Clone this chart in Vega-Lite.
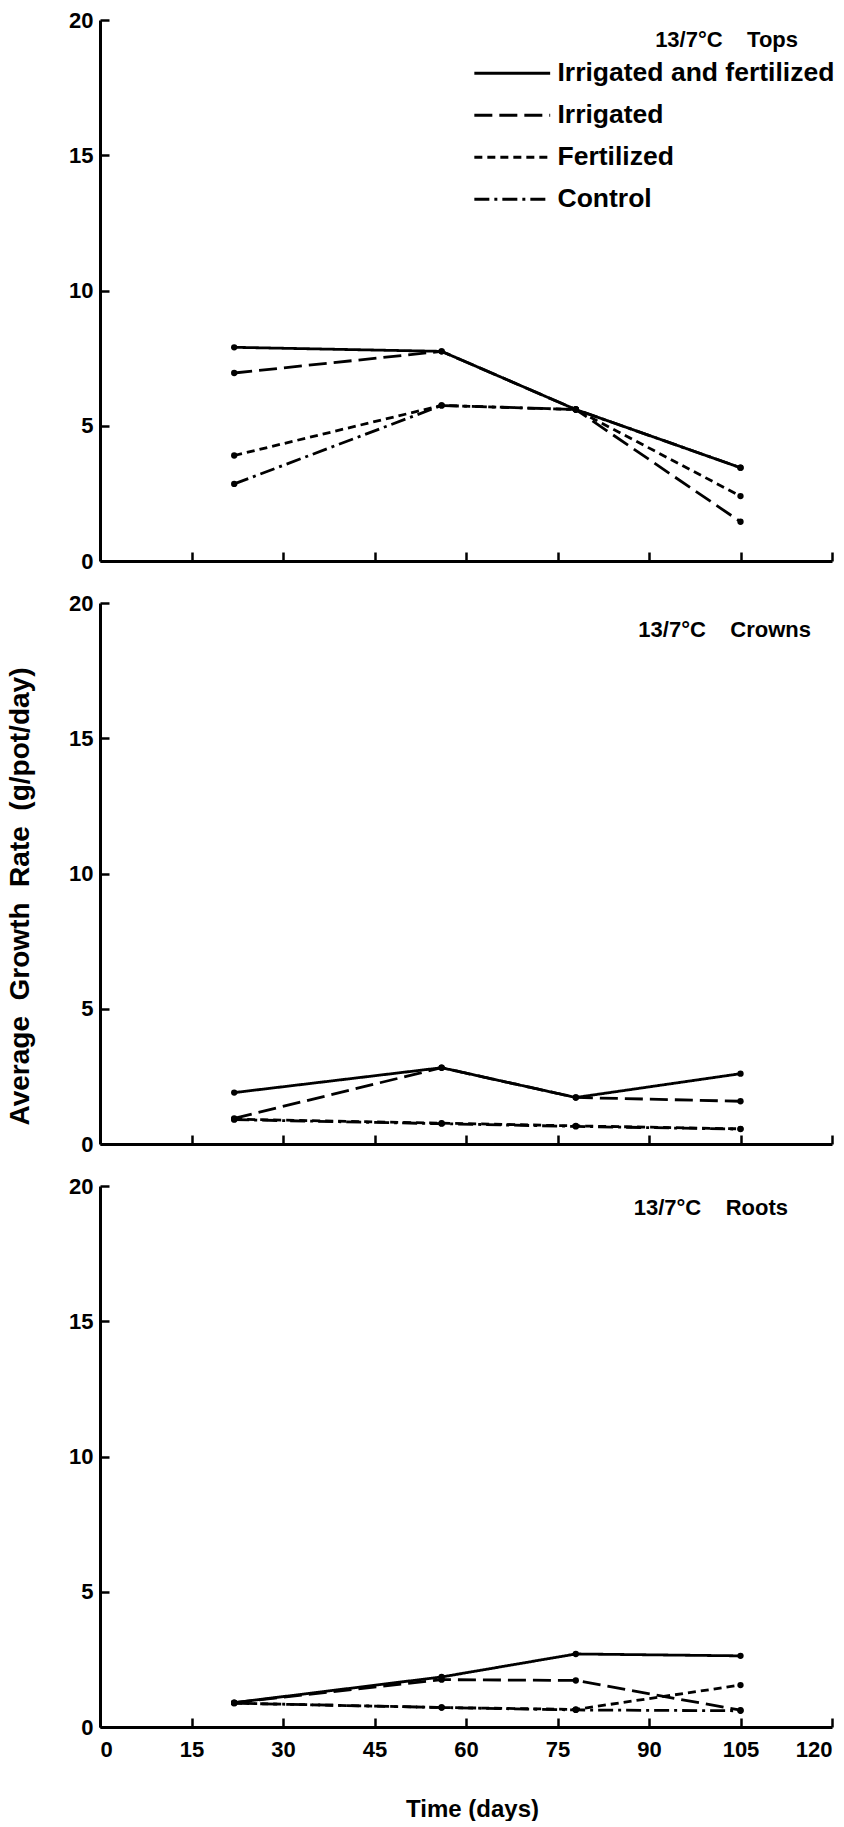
{
  "$schema": "https://vega.github.io/schema/vega-lite/v6.json",
  "background": "white",
  "padding": {"left": 6, "top": 9, "right": 0, "bottom": 0},
  "config": {
    "view": {"stroke": null},
    "font": "Liberation Sans",
    "axis": {
      "grid": false,
      "domainColor": "#000",
      "domainWidth": 3,
      "tickColor": "#000",
      "tickWidth": 2.5,
      "labelColor": "#000",
      "labelFont": "Liberation Sans",
      "labelFontSize": 22,
      "labelFontWeight": "bold",
      "titleColor": "#000",
      "titleFont": "Liberation Sans",
      "titleFontWeight": "bold"
    }
  },
  "data": {
    "values": [
      {"part": "Tops", "treatment": "Irrigated and fertilized", "day": 22, "rate": 7.9},
      {"part": "Tops", "treatment": "Irrigated and fertilized", "day": 56, "rate": 7.75},
      {"part": "Tops", "treatment": "Irrigated and fertilized", "day": 78, "rate": 5.6},
      {"part": "Tops", "treatment": "Irrigated and fertilized", "day": 105, "rate": 3.45},
      {"part": "Tops", "treatment": "Irrigated", "day": 22, "rate": 6.95},
      {"part": "Tops", "treatment": "Irrigated", "day": 56, "rate": 7.75},
      {"part": "Tops", "treatment": "Irrigated", "day": 78, "rate": 5.6},
      {"part": "Tops", "treatment": "Irrigated", "day": 105, "rate": 1.45},
      {"part": "Tops", "treatment": "Fertilized", "day": 22, "rate": 3.9},
      {"part": "Tops", "treatment": "Fertilized", "day": 56, "rate": 5.75},
      {"part": "Tops", "treatment": "Fertilized", "day": 78, "rate": 5.6},
      {"part": "Tops", "treatment": "Fertilized", "day": 105, "rate": 2.4},
      {"part": "Tops", "treatment": "Control", "day": 22, "rate": 2.85},
      {"part": "Tops", "treatment": "Control", "day": 56, "rate": 5.75},
      {"part": "Tops", "treatment": "Control", "day": 78, "rate": 5.6},
      {"part": "Tops", "treatment": "Control", "day": 105, "rate": 3.45},
      {"part": "Crowns", "treatment": "Irrigated and fertilized", "day": 22, "rate": 1.9},
      {"part": "Crowns", "treatment": "Irrigated and fertilized", "day": 56, "rate": 2.82},
      {"part": "Crowns", "treatment": "Irrigated and fertilized", "day": 78, "rate": 1.72},
      {"part": "Crowns", "treatment": "Irrigated and fertilized", "day": 105, "rate": 2.6},
      {"part": "Crowns", "treatment": "Irrigated", "day": 22, "rate": 0.95},
      {"part": "Crowns", "treatment": "Irrigated", "day": 56, "rate": 2.82},
      {"part": "Crowns", "treatment": "Irrigated", "day": 78, "rate": 1.72},
      {"part": "Crowns", "treatment": "Irrigated", "day": 105, "rate": 1.58},
      {"part": "Crowns", "treatment": "Fertilized", "day": 22, "rate": 0.92},
      {"part": "Crowns", "treatment": "Fertilized", "day": 56, "rate": 0.77},
      {"part": "Crowns", "treatment": "Fertilized", "day": 78, "rate": 0.67},
      {"part": "Crowns", "treatment": "Fertilized", "day": 105, "rate": 0.56},
      {"part": "Crowns", "treatment": "Control", "day": 22, "rate": 0.9},
      {"part": "Crowns", "treatment": "Control", "day": 56, "rate": 0.75},
      {"part": "Crowns", "treatment": "Control", "day": 78, "rate": 0.65},
      {"part": "Crowns", "treatment": "Control", "day": 105, "rate": 0.55},
      {"part": "Roots", "treatment": "Irrigated and fertilized", "day": 22, "rate": 0.9},
      {"part": "Roots", "treatment": "Irrigated and fertilized", "day": 56, "rate": 1.85},
      {"part": "Roots", "treatment": "Irrigated and fertilized", "day": 78, "rate": 2.7},
      {"part": "Roots", "treatment": "Irrigated and fertilized", "day": 105, "rate": 2.63},
      {"part": "Roots", "treatment": "Irrigated", "day": 22, "rate": 0.9},
      {"part": "Roots", "treatment": "Irrigated", "day": 56, "rate": 1.75},
      {"part": "Roots", "treatment": "Irrigated", "day": 78, "rate": 1.72},
      {"part": "Roots", "treatment": "Irrigated", "day": 105, "rate": 0.62},
      {"part": "Roots", "treatment": "Fertilized", "day": 22, "rate": 0.88},
      {"part": "Roots", "treatment": "Fertilized", "day": 56, "rate": 0.72},
      {"part": "Roots", "treatment": "Fertilized", "day": 78, "rate": 0.65},
      {"part": "Roots", "treatment": "Fertilized", "day": 105, "rate": 1.55},
      {"part": "Roots", "treatment": "Control", "day": 22, "rate": 0.88},
      {"part": "Roots", "treatment": "Control", "day": 56, "rate": 0.72},
      {"part": "Roots", "treatment": "Control", "day": 78, "rate": 0.63},
      {"part": "Roots", "treatment": "Control", "day": 105, "rate": 0.6}
    ]
  },
  "bounds": "flush",
  "spacing": 42,
  "resolve": {"legend": {"strokeDash": "independent"}},
  "vconcat": [
    {
      "width": 732,
      "height": 541,
      "title": {"text": "13/7°C\u00a0\u00a0\u00a0\u00a0Tops", "frame": "group", "orient": "top", "anchor": "end", "offset": -53, "baseline": "middle", "dx": -34, "fontSize": 22, "fontWeight": "bold", "font": "Liberation Sans", "color": "#000"},
      "transform": [{"filter": "datum.part === 'Tops'"}],
      "encoding": {
        "x": {"field": "day", "type": "quantitative", "scale": {"domain": [0, 120], "nice": false, "zero": false},
              "axis": {"values": [15, 30, 45, 60, 75, 90, 105, 120], "labels": false, "tickSize": -9, "title": null}},
        "y": {"field": "rate", "type": "quantitative", "scale": {"domain": [0, 20], "nice": false},
              "axis": {"values": [0, 5, 10, 15, 20], "tickSize": -9, "labelPadding": 16, "title": null}}
      },
      "layer": [
        {
          "mark": {"type": "line", "color": "#000", "strokeWidth": 2.8},
          "encoding": {
            "strokeDash": {"field": "treatment", "type": "nominal",
              "scale": {"domain": ["Irrigated and fertilized", "Irrigated", "Fertilized", "Control"], "range": [[1, 0], [18, 7], [8, 5], [15, 5, 3, 5]]},
              "legend": {"orient": "none", "legendX": 399, "legendY": 40, "padding": 0, "title": null, "symbolType": "M-5,0H5", "symbolSize": 230, "symbolStrokeWidth": 2.8, "symbolStrokeColor": "#000", "symbolFillColor": "transparent", "labelFont": "Liberation Sans", "labelFontSize": 26.5, "labelFontWeight": "bold", "labelColor": "#000", "labelOffset": 32, "rowPadding": 15, "labelLimit": 400}}
          }
        },
        {"mark": {"type": "point", "filled": true, "color": "#000", "size": 40, "opacity": 1}}
      ]
    },
    {
      "width": 732,
      "height": 541,
      "title": {"text": "13/7°C\u00a0\u00a0\u00a0\u00a0Crowns", "frame": "group", "orient": "top", "anchor": "end", "offset": -60, "baseline": "middle", "dx": -21, "fontSize": 22, "fontWeight": "bold", "font": "Liberation Sans", "color": "#000"},
      "transform": [{"filter": "datum.part === 'Crowns'"}],
      "encoding": {
        "x": {"field": "day", "type": "quantitative", "scale": {"domain": [0, 120], "nice": false, "zero": false},
              "axis": {"values": [15, 30, 45, 60, 75, 90, 105, 120], "labels": false, "tickSize": -9, "title": null}},
        "y": {"field": "rate", "type": "quantitative", "scale": {"domain": [0, 20], "nice": false},
              "axis": {"values": [0, 5, 10, 15, 20], "tickSize": -9, "labelPadding": 16,
                       "title": "Average\u00a0 Growth\u00a0 Rate\u00a0 (g/pot/day)", "titleFontSize": 28, "titleX": -80, "titleY": 293, "titleBaseline": "middle", "titleAngle": -90, "titleAlign": "center"}}
      },
      "layer": [
        {
          "mark": {"type": "line", "color": "#000", "strokeWidth": 2.8},
          "encoding": {
            "strokeDash": {"field": "treatment", "type": "nominal",
              "scale": {"domain": ["Irrigated and fertilized", "Irrigated", "Fertilized", "Control"], "range": [[1, 0], [18, 7], [8, 5], [15, 5, 3, 5]]},
              "legend": null}
          }
        },
        {"mark": {"type": "point", "filled": true, "color": "#000", "size": 40, "opacity": 1}}
      ]
    },
    {
      "width": 732,
      "height": 541,
      "title": {"text": "13/7°C\u00a0\u00a0\u00a0\u00a0Roots", "frame": "group", "orient": "top", "anchor": "end", "offset": -55, "baseline": "middle", "dx": -44, "fontSize": 22, "fontWeight": "bold", "font": "Liberation Sans", "color": "#000"},
      "transform": [{"filter": "datum.part === 'Roots'"}],
      "encoding": {
        "x": {"field": "day", "type": "quantitative", "scale": {"domain": [0, 120], "nice": false, "zero": false},
              "axis": {"values": [0, 15, 30, 45, 60, 75, 90, 105, 120], "tickSize": -9, "labelPadding": 21,
                       "title": "Time (days)", "titleFontSize": 24, "titleX": 372, "titleY": 82, "titleBaseline": "middle"}},
        "y": {"field": "rate", "type": "quantitative", "scale": {"domain": [0, 20], "nice": false},
              "axis": {"values": [0, 5, 10, 15, 20], "tickSize": -9, "labelPadding": 16, "title": null}}
      },
      "layer": [
        {
          "mark": {"type": "line", "color": "#000", "strokeWidth": 2.8},
          "encoding": {
            "strokeDash": {"field": "treatment", "type": "nominal",
              "scale": {"domain": ["Irrigated and fertilized", "Irrigated", "Fertilized", "Control"], "range": [[1, 0], [18, 7], [8, 5], [15, 5, 3, 5]]},
              "legend": null}
          }
        },
        {"mark": {"type": "point", "filled": true, "color": "#000", "size": 40, "opacity": 1}}
      ]
    }
  ]
}
